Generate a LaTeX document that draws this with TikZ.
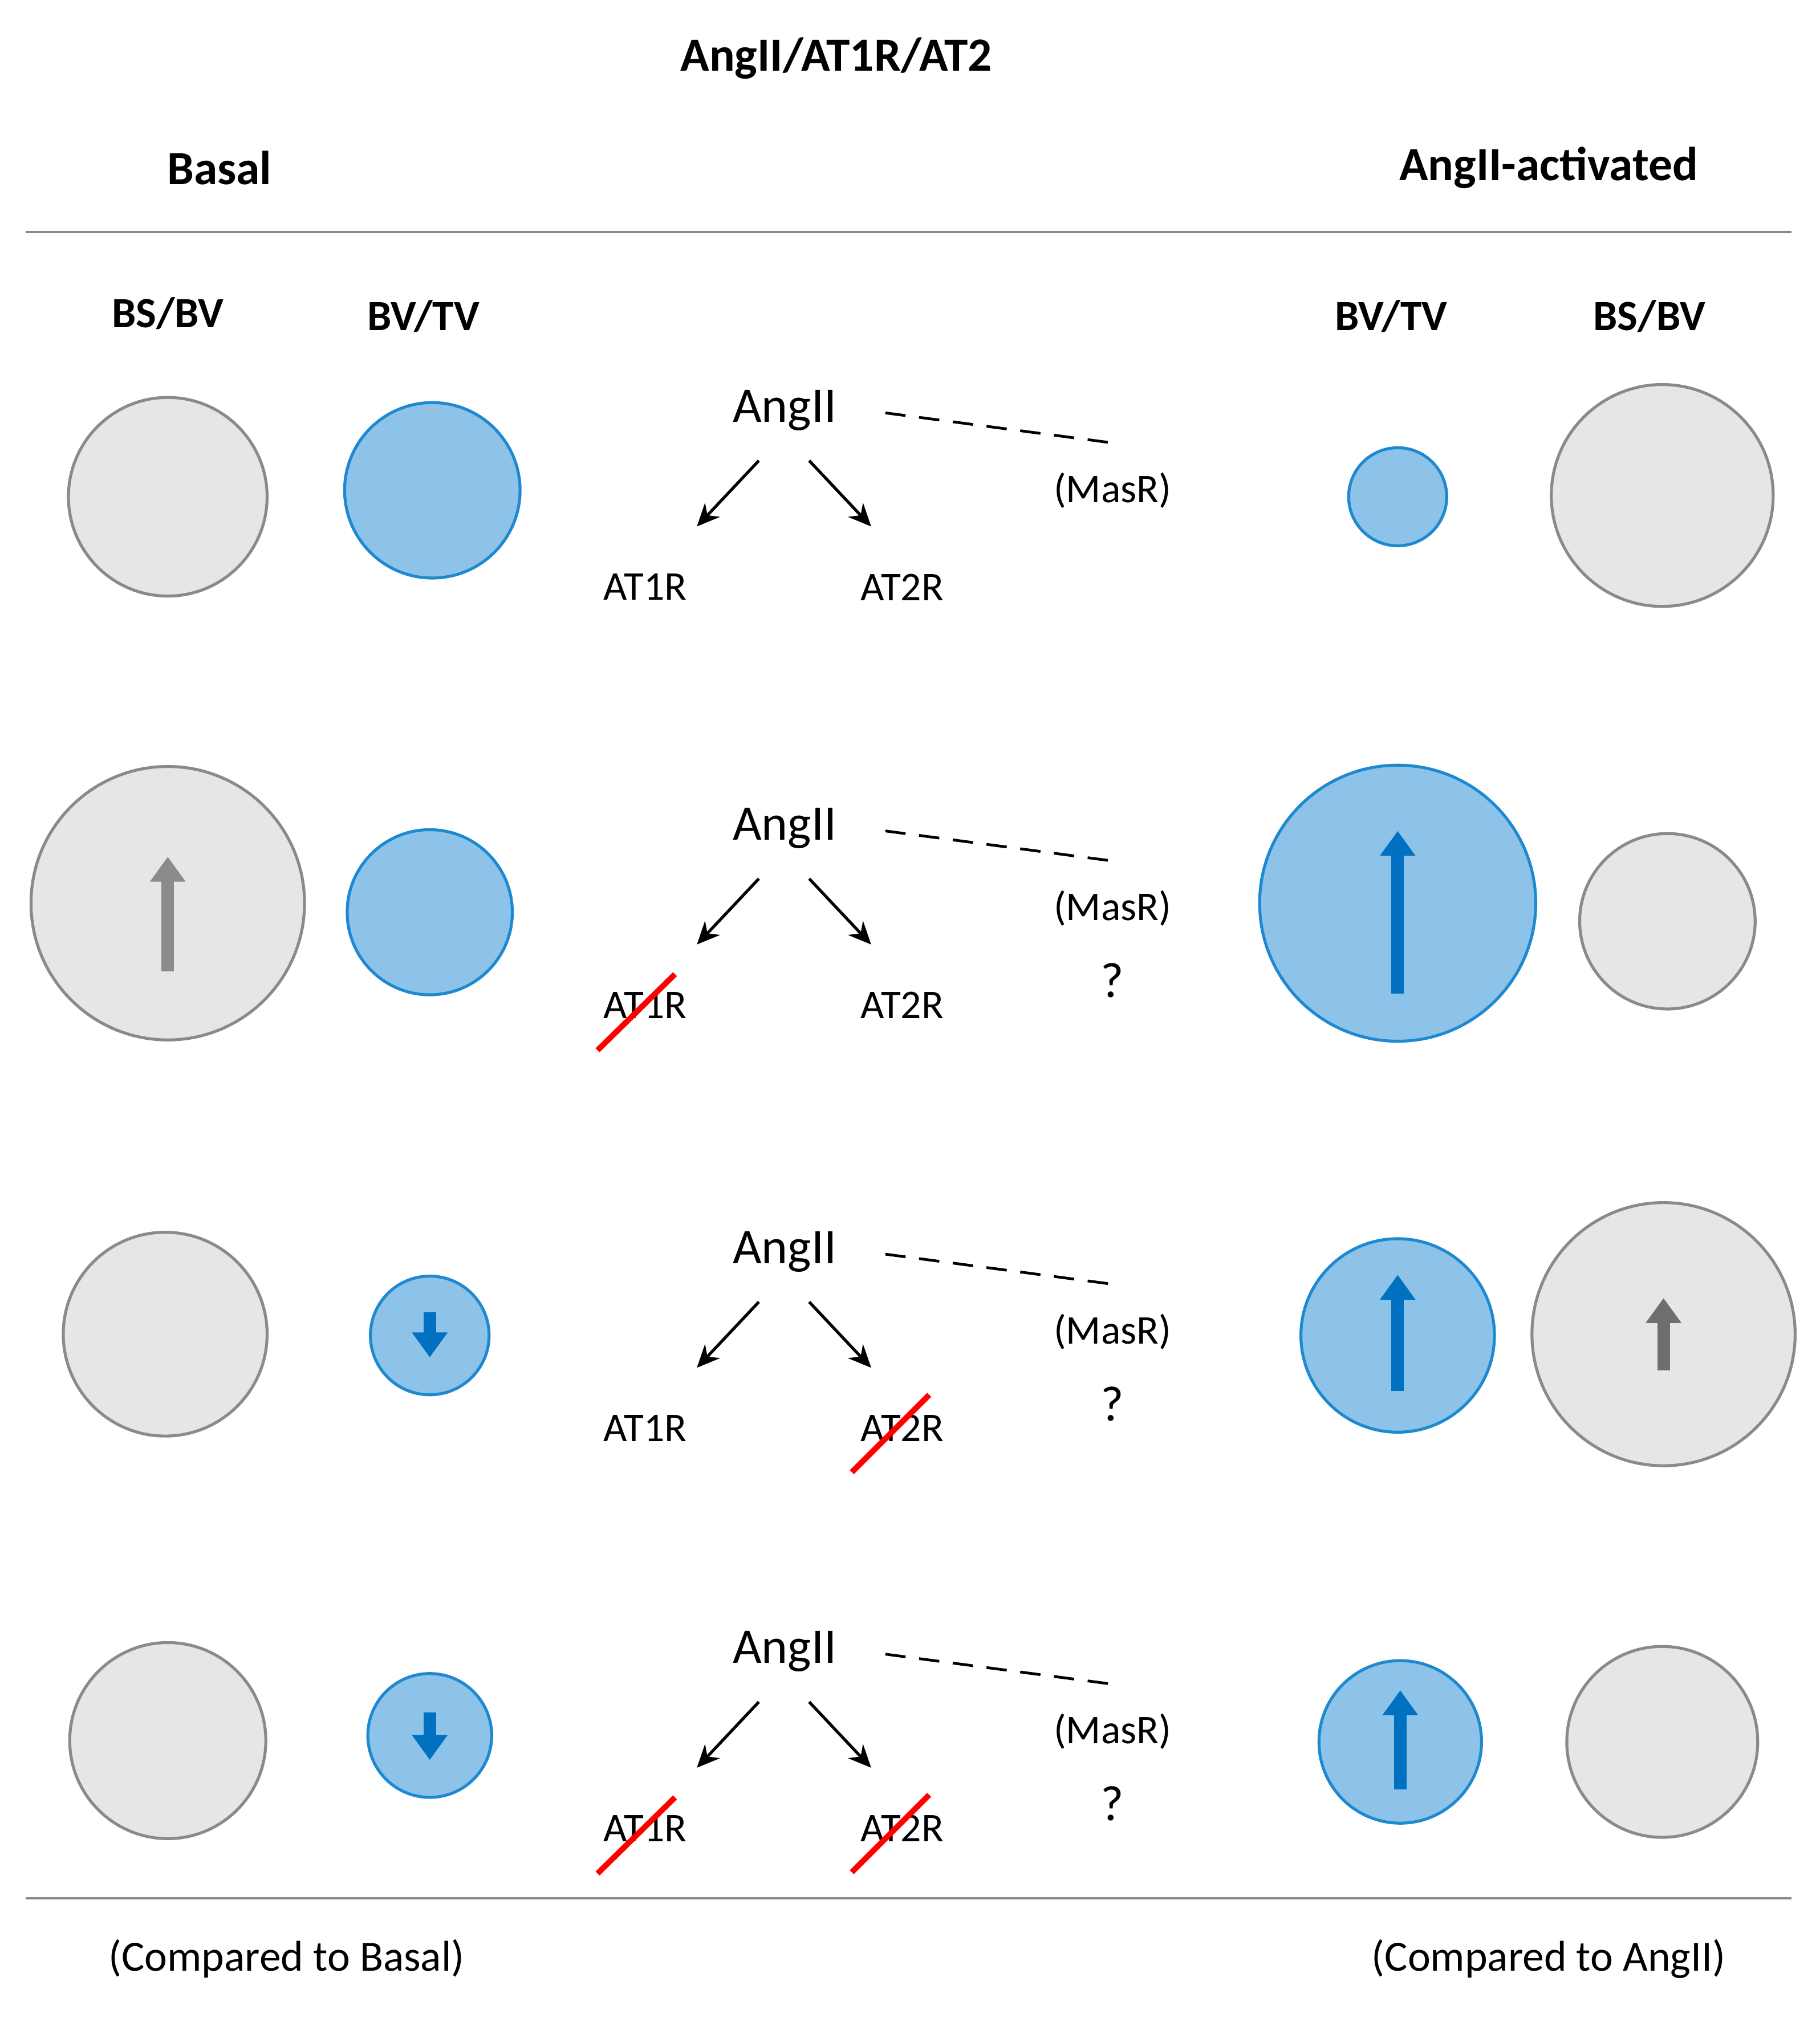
\documentclass[tikz,border=0pt]{standalone}
\usepackage{fontspec}
\setmainfont{Carlito}
\usetikzlibrary{arrows.meta}
\definecolor{gfill}{HTML}{E6E6E6}\definecolor{gline}{HTML}{8A8A8A}
\definecolor{bfill}{HTML}{8DC3E8}\definecolor{bline}{HTML}{1E88D0}
\definecolor{barr}{HTML}{0070C0}\definecolor{garr}{HTML}{6E6E6E}
\begin{document}
\begin{tikzpicture}[x=0.02cm,y=-0.02cm,
 gc/.style={circle,draw=gline,fill=gfill,line width=1.3pt,inner sep=0,minimum size=#1*0.04cm},
 bc/.style={circle,draw=bline,fill=bfill,line width=1.3pt,inner sep=0,minimum size=#1*0.04cm},
 blk/.style={line width=5.5pt,-{Triangle[width=15pt,length=11pt]}},
 hd/.style={font=\bfseries\fontsize{21}{24}\selectfont},
 sub/.style={font=\bfseries\fontsize{19}{22}\selectfont},
 ang/.style={font=\fontsize{22}{26}\selectfont},
 lab/.style={font=\fontsize{18}{22}\selectfont},
 strike/.style={red,line width=2.5pt}]
\useasboundingbox (0,0) rectangle (1410,1564);
\node[hd] (title) at (648,45) {AngII/AT1R/AT2};
\node[hd] (basal) at (170,130) {Basal};
\node[hd] (act) at (1200,130) {AngII-activated};
\coordinate (l1a) at (20,180); \coordinate (l1b) at (1388,180);
\draw[gline,line width=1pt] (l1a) -- (l1b);
\coordinate (l2a) at (20,1471); \coordinate (l2b) at (1388,1471);
\draw[gline,line width=1pt] (l2a) -- (l2b);
\node[sub] (h1) at (130,243) {BS/BV};
\node[sub] (h2) at (328,245) {BV/TV};
\node[sub] (h3) at (1078,245) {BV/TV};
\node[sub] (h4) at (1278,245) {BS/BV};
\node[lab,font=\fontsize{19}{22}\selectfont] (cb) at (222,1518) {(Compared to Basal)};
\node[lab,font=\fontsize{19}{22}\selectfont] (ca) at (1200,1518) {(Compared to AngII)};
% circles
\node[gc=77] (g11) at (130,385) {}; \node[bc=68] (b11) at (335,380) {};
\node[bc=38] (b12) at (1083,385) {}; \node[gc=86] (g12) at (1288,384) {};
\node[gc=106] (g21) at (130,700) {}; \node[bc=64] (b21) at (333,707) {};
\node[bc=107] (b22) at (1083,700) {}; \node[gc=68] (g22) at (1292,714) {};
\node[gc=79] (g31) at (128,1034) {}; \node[bc=46] (b31) at (333,1035) {};
\node[bc=75] (b32) at (1083,1035) {}; \node[gc=102] (g32) at (1289,1034) {};
\node[gc=76] (g41) at (130,1349) {}; \node[bc=48] (b41) at (333,1345) {};
\node[bc=63] (b42) at (1085,1350) {}; \node[gc=74] (g42) at (1288,1350) {};
% block arrows
\draw[blk,garr!80] (130,753) -- (130,664);
\draw[blk,barr] (1083,770) -- (1083,644);
\draw[blk,barr] (333,1017) -- (333,1052);
\draw[blk,barr] (1083,1078) -- (1083,988);
\draw[blk,garr] (1289,1062) -- (1289,1006);
\draw[blk,barr] (333,1327) -- (333,1364);
\draw[blk,barr] (1085,1387) -- (1085,1310);
% center blocks
\foreach \r/\y/\q in {1/318/0,2/642/1,3/970/1,4/1280/1}{
 \node[ang] (ang\r) at (608,\y) {AngII};
 \coordinate (da\r) at (686,\y+2); \coordinate (db\r) at (860,\y+25);
 \draw[line width=1.2pt,dash pattern=on 9pt off 6pt] (da\r) -- (db\r);
 \node[lab] (mas\r) at (862,\y+62) {(MasR)};
 \node[lab] (at1\r) at (500,\y+137) {AT1R};
 \node[lab] (at2\r) at (699,\y+137) {AT2R};
 \coordinate (s1\r) at (588,\y+39); \coordinate (e1\r) at (540,\y+90);
 \coordinate (s2\r) at (627,\y+39); \coordinate (e2\r) at (675,\y+90);
 \draw[line width=1.3pt,-{Stealth[length=10pt,width=9pt]}] (s1\r) -- (e1\r);
 \draw[line width=1.3pt,-{Stealth[length=10pt,width=9pt]}] (s2\r) -- (e2\r);
 \ifnum\q=1 \node[ang] (q\r) at (862,\y+118) {?};\fi
}
\draw[strike] ([shift={(-37,35)}]at12.center) -- ([shift={(23,-24)}]at12.center);
\draw[strike] ([shift={(-39,34)}]at23.center) -- ([shift={(21,-26)}]at23.center);
\draw[strike] ([shift={(-37,35)}]at14.center) -- ([shift={(23,-24)}]at14.center);
\draw[strike] ([shift={(-39,34)}]at24.center) -- ([shift={(21,-26)}]at24.center);
\end{tikzpicture}
\end{document}
